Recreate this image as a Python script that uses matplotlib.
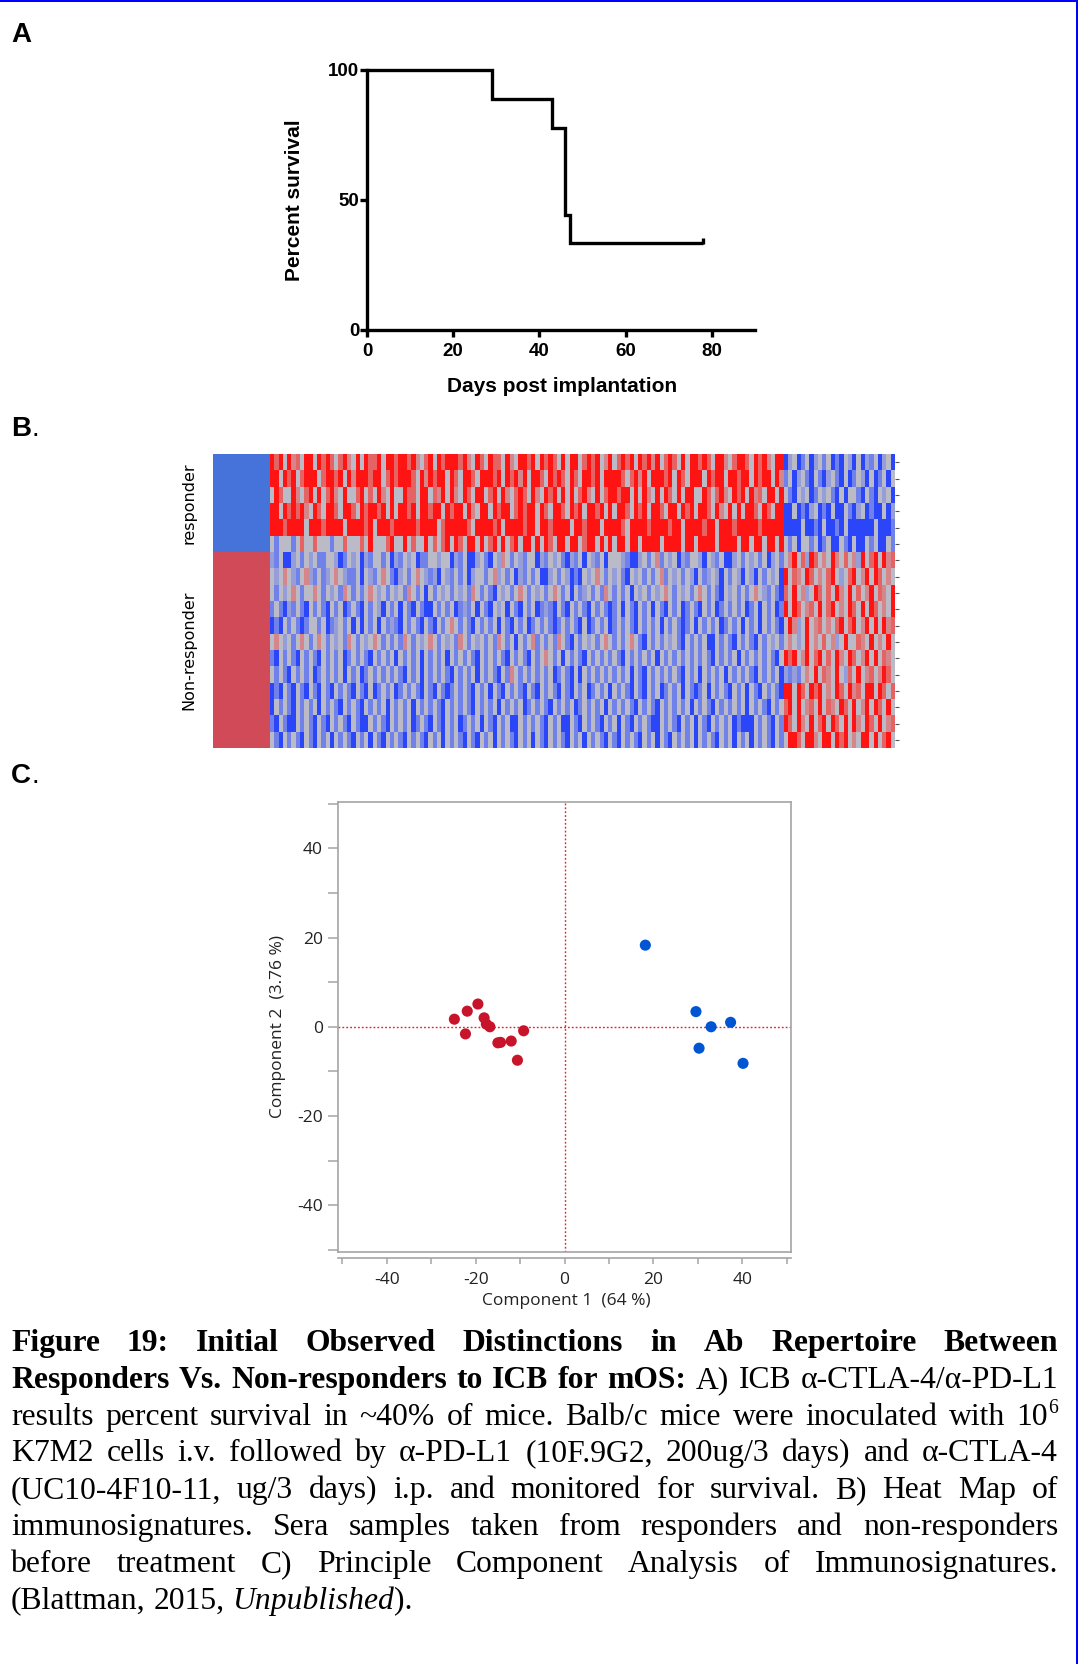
import numpy as np
import matplotlib
matplotlib.use("Agg")
import matplotlib.pyplot as plt
from matplotlib.colors import LinearSegmentedColormap, ListedColormap
from matplotlib.patches import Rectangle
from matplotlib.font_manager import FontProperties

# ---------------- data ----------------
# Panel A: Kaplan-Meier survival
surv_days = [0, 29, 43, 46, 47, 78]
surv_pct = [100, 88.9, 77.8, 44.4, 33.3, 33.3]
surv_xticks = [0, 20, 40, 60, 80]
surv_yticks = [0, 50, 100]

# Panel B: heat map (levels: B strong blue, b blue, l pale blue, g grey, p pale red, r red, R strong red)
groups = ["responder"] * 6 + ["Non-responder"] * 12
heat_left = [
    "RrRgRprgRR gRrRrgrRpg RgRrrRgRRr RRrRpgrRgR rRRRrRpgRr gRrrgRpgRR rRgRrRrgRg RRgrRrRgpR grRrRgRrRp RgrRrgRgRR rRrgRRpgrR RrgRrRpgRR",
    "RRgRrRgrRR RgrRRrRgRp RRRrRRgrRr RRRrgRpRrR RgRrgRRrgR RRrRgRrRpR gRRrgRrRrg RrgRRrRgRR RRrgrRpRgR RRrRgRrgRR RgRrRRgRRr RRgRrRRgRp",
    "gRrggRpgrR gRgrRpgRgg rRgrgRpgRg gRrrgRRgrp RgRpgRrgRR grRgRpgrRr gRpgRrRgRg RgrRpgRgrR RrRRgRgRpg RgRrgRgRRg gRrgrRpgRr RgRprgRRgR",
    "RRgRrRrRpg RrgRRrgRRr gRrRRrRgRg RRrRgRRrRR gRrRRgRpgR RgRrRRgrRr RRgRrgRRrg RrRgRRrRgR gRRrgRrRgR RrgRRgRrRg RRrgRpgRgR gRRrgRrgRR",
    "RRRrRRRRgR RRrRRRRgRR RRrRgRRRrR RRRRrRRRRg rRRRRRrgRR RRrRgRRRRr RRgRRrRRRR gRRrRRRgRR RRrgRRRRrR RRRrRRgRRR RrRRgRRRrR RRRRrRRRRR",
    "gbgggbgrgg rgggbggrgg grgRgggrRg gRgrggRgrg rRgRrgRRgR grRgRgrRgR RgRgRrgRRg RRgrRRgRgR gRRgRRgRRR RgRRRRgRRg RRRRgRRRRg RRgRRgRRgR",
    "lbgBBlgbgl gbbgglBbgl gBlbggbgBl bglgBbbggl ggBlbgBBlg bBglpgbglb ggBlbglgbB lbgBglbgBg gglbBBlgbg pbglgBlbgg lBglbgBBlg bglgbgBlgb",
    "glgpglbgpl bgblgpglbb gBglbgpgbB lgbgpglblB glbgbgBlgg bgplgbgBlb gbgBBlgbgl BbBglgpgbg lgbBglgbgb gpbglgbglB gblglBgbgl BglBgbglgB",
    "gbglgpgbgg pgbglgbpgb gbgpglgbgl gbpgbgBgbg lgbglgbpgb gbBglgbgpg bglgbgpgbg Bgblgbgbpg bgbgBglgbg lgpgbglgbg pgbgbBglgb gbgpglbgbB",
    "bgbBlbgbBg bgbBgbgBbg bBgbglBgbg BgbBgbBBgb gbgBblbgBg bBglgBgbBg bgBblbBgbB gbgbBgbgbB bgBgbBgbgB gbBgbgBbgb BgbgBbgbgb gBbgBgbgBb",
    "BbBgbgbBbg gbgBblgbgB gBgbgBgblb BgbgbBgbBg bgpgbgbBgb gbgBgbBgbg BbgbgbBbgb gbBgBbgbgB bgbgbBgbgb gBgbgbBbgB gbgbgBbgbg BgbgBgbgbB",
    "gpglgbgpgb gpgbglgbpg bglgpgbgbg bpgbglgpgb glgbpgbglg bgbpgbgBgb gpbgbgbpgb Bgbglgbgpg bgbgpgbBgb gbglgbBgbg bgBBgbgbBg bgbBgbglgb",
    "bBgbgbBgbg bBgbgbgBbg bgbBgbgbgB gbgbgBgbgb gBgbgbgbBg bgbgbBgbgb BgbgpgbgBg bgbBgbgbgb gbBgbgbgbg Bgbgbgbgbg bgbBgbgbgB gbgbgbgbBg",
    "gbgbBgbgbg BbgbgbgBgb gBbgbgbgbg bBgbgBgbgb gbBgbgbgBg bgbBgbpgbg bgbgbgBbgb BgBgbgbgbg bgbgBgbBgb gbgbgbBgbg BgbgbgBgbg bgbBgbgbgB",
    "BbBgbBgbBg bBgbBgbgbB gbBgBbgbgB bgbgbBgbBg bBbgbgbBgb gBgbBgbgbB gbBgbgbBgb BgbgBbgbgB gbgbBgbBgb gBbgbgBgbB bgBgbgbBgb gBgbBgbgbB",
    "BgbgbBgbgb gBgbgbBgbg bBgbgbgBgb gbgBgbgbgb BgbgbgbBgb gbgBgbgbgB bgbgbBgbgb gBbgbgbgBg bgbgbBgbgb BgbgbgbgBg bgbBgbgbgb gBgbgbBgbg",
    "bBgbBBgbgb BgbBgbgbBg bBBgbgbBgb gbgBbgbBgb BgbgBbgbgB gbBgbgBBgb gbgbBgbgBB gbBgbgbBgb gBgbBgbgbB BgbgbBgbgB gbBgbgbgBb BBBgbgbBgb",
    "gbBgbgbBgb BgbgBgbgbB gbgBgbBgbg bBgbgbBgbg BgbgbBgbBg bgBgbgbBgb gBgbBgbgbB gbgBgbgbBg bBgbgbBgbg BgbBgbgbgB gbgbBgbgBg bgBgbgbBgb",
]
heat_right = [
    "BlgBbgBlgb gBbBglBgBl bgBlgB",
    "bgBlgbBgbB lgbBgBbglB gBbgBg",
    "gbBglgBbgl gbBgBggbBg bBglgB",
    "BBgBbBlgBb BgBBgbBlgB bBBgBl",
    "BBBBgBBbBg BBbBgBBBBB BgBBBb",
    "gbgBggbgBb gBBgbBgBBg bgBBgb",
    "gpRgrlRrgp gRpgrgplRg rRgRpr",
    "RgrpgRrgpg rRglgrRgpR gRrgpg",
    "rgRgplgRrg rgRpgRgrgp RgrpgR",
    "RgRrgprgRg rRgpgRrgRg RrgpgR",
    "gRplgRgprg pgrRgrRgpR gRgRpr",
    "gpglgRgpgr gplgRggrpg RgpgRg",
    "RrRgpRgrRg rgRpgRrgpR gRgrpg",
    "lblbgpgRgr pgRglrgRgp rgpRrg",
    "RRgRrgRrRg pgRrgRprgR RgRrgr",
    "rRgRgprgRg rpgRrgRgpR gRrgRg",
    "RrgRpgRgrR gRrgRgRpgR rgRgpr",
    "gRRrgRRpgR RgRrRgpgRR gRgrRg",
]
level_values = {"B": -2.0, "b": -1.0, "l": -0.5, "g": 0.0, "p": 0.6, "r": 1.0, "R": 2.0}

# Panel C: PCA scores
nonresp_pc1 = [-24.8, -21.9, -19.5, -22.3, -18.1, -17.6, -16.8, -15.0, -14.4, -12.0, -9.2, -10.6]
nonresp_pc2 = [1.7, 3.5, 5.1, -1.6, 2.0, 0.6, 0.0, -3.6, -3.5, -3.2, -0.9, -7.5]
resp_pc1 = [18.2, 29.6, 33.0, 37.4, 30.3, 40.2]
resp_pc2 = [18.3, 3.4, 0.0, 1.0, -4.8, -8.2]
pca_major = [-40, -20, 0, 20, 40]
pca_minor = [-50, -30, -10, 10, 30, 50]

# Caption
caption_lines = [
    ([("Figure 19: Initial Observed Distinctions in Ab Repertoire Between", "b")], True),
    ([("Responders Vs. Non-responders to ICB for mOS:", "b"), (" A) ICB α-CTLA-4/α-PD-L1", "n")], True),
    ([("results percent survival in ~40% of mice. Balb/c mice were inoculated with 10", "n"), ("6", "s")], True),
    ([("K7M2 cells i.v. followed by α-PD-L1 (10F.9G2, 200ug/3 days) and α-CTLA-4", "n")], True),
    ([("(UC10-4F10-11, ug/3 days) i.p. and monitored for survival. B) Heat Map of", "n")], True),
    ([("immunosignatures. Sera samples taken from responders and non-responders", "n")], True),
    ([("before treatment C) Principle Component Analysis of Immunosignatures.", "n")], True),
    ([("(Blattman, 2015, ", "n"), ("Unpublished", "i"), (").", "n")], False),
]

# ---------------- figure ----------------
W, H, DPI = 1078, 1664, 100
fig = plt.figure(figsize=(W / DPI, H / DPI), dpi=DPI)
fig.patch.set_facecolor("white")


def fx(px):
    return px / W


def fy(py):
    return 1 - py / H


def box(l, t, r, b):
    return [fx(l), fy(b), (r - l) / W, (b - t) / H]


SANS = "Liberation Sans"

# border (top and right, blue)
fig.add_artist(Rectangle((0, fy(2.2)), 1, 2.2 / H, transform=fig.transFigure,
                         facecolor="#0000ff", edgecolor="none"))
fig.add_artist(Rectangle((fx(1075.5), 0), 2.5 / W, 1, transform=fig.transFigure,
                         facecolor="#0000ff", edgecolor="none"))

# panel letters
fig.text(fx(11), fy(42), "A", fontsize=20, fontweight="bold", family=SANS, va="baseline")
fig.text(fx(11), fy(436), "B", fontsize=20, fontweight="bold", family=SANS, va="baseline")
fig.text(fx(32), fy(436), ".", fontsize=20, family=SANS, va="baseline")
fig.text(fx(11), fy(783), "C", fontsize=20, fontweight="bold", family=SANS, va="baseline")
fig.text(fx(32), fy(783), ".", fontsize=20, family=SANS, va="baseline")

# ---------------- Panel A ----------------
axA = fig.add_axes(box(367, 70, 755, 330))
axA.step(surv_days, surv_pct, where="post", color="black", lw=2.4, clip_on=False,
         solid_joinstyle="miter", solid_capstyle="butt")
axA.plot([surv_days[-1]], [surv_pct[-1] + 1.0], marker="|", ms=5, mew=2.4, color="black",
         clip_on=False)
axA.set_xlim(0, 90)
axA.set_ylim(0, 100)
for s in ["top", "right"]:
    axA.spines[s].set_visible(False)
for s in ["left", "bottom"]:
    axA.spines[s].set_linewidth(2.4)
axA.set_xticks(surv_xticks, labels=[str(v) for v in surv_xticks], fontsize=13.5,
               fontweight="bold", family=SANS)
axA.set_yticks(surv_yticks, labels=[str(v) for v in surv_yticks], fontsize=13.5,
               fontweight="bold", family=SANS)
axA.tick_params(axis="x", direction="out", length=5, width=2.4, pad=4)
axA.tick_params(axis="y", direction="out", length=5, width=2.4, pad=0.5)
fig.text(fx(295), fy(200), "Percent survival", rotation=90, ha="center", va="center",
         fontsize=15, fontweight="bold", family=SANS)
fig.text(fx(562), fy(386), "Days post implantation", ha="center", va="center",
         fontsize=15, fontweight="bold", family=SANS)

# ---------------- Panel B ----------------
rows = [(L + R).replace(" ", "") for L, R in zip(heat_left, heat_right)]
assert len(set(len(r) for r in rows)) == 1
M = np.array([[level_values[c] for c in r] for r in rows])

heat_cmap = LinearSegmentedColormap.from_list(
    "bgr", [(0.0, "#2a46f8"), (0.25, "#7082ea"), (0.5, "#bbbbc8"),
            (0.75, "#e66464"), (1.0, "#ff1414")])
group_names = ["responder", "Non-responder"]
group_idx = np.array([[group_names.index(g)] for g in groups])

axG = fig.add_axes(box(213, 454, 270, 748))
axG.imshow(group_idx, cmap=ListedColormap(["#4673d9", "#d14a57"]), vmin=0, vmax=1,
           aspect="auto", interpolation="nearest")
axG.axis("off")

axH = fig.add_axes(box(270, 454, 895, 748))
axH.imshow(M, cmap=heat_cmap, vmin=-2, vmax=2, aspect="auto", interpolation="nearest")
for sp in axH.spines.values():
    sp.set_visible(False)
axH.set_xticks([])
axH.yaxis.tick_right()
axH.set_yticks(np.arange(M.shape[0]))
axH.set_yticklabels([])
axH.tick_params(axis="y", length=3, width=0.8, color="#555555")

n_resp = groups.count("responder")
row_h = (748 - 454) / len(groups)
fig.text(fx(189), fy(454 + row_h * n_resp / 2), "responder", rotation=90, ha="center",
         va="center", fontsize=11.5, family="DejaVu Sans")
fig.text(fx(189), fy(454 + row_h * (n_resp + len(groups)) / 2), "Non-responder", rotation=90,
         ha="center", va="center", fontsize=11.5, family="DejaVu Sans")

# ---------------- Panel C ----------------
PCA_FONT = "Open Sans"
GREY = "#a4a4a4"
REFRED = "#e8202a"
axC = fig.add_axes(box(338, 802, 791, 1252))
axC.set_xlim(-51.0, 51.0)
axC.set_ylim(-50.5, 50.4)
axC.axvline(0, color=REFRED, lw=1.0, ls=(0, (1.3, 1.5)), zorder=1)
axC.axhline(0, color=REFRED, lw=1.0, ls=(0, (1.3, 1.5)), zorder=1)
axC.scatter(nonresp_pc1, nonresp_pc2, s=64, color="#c8142a", edgecolors="none", zorder=3)
axC.scatter(resp_pc1, resp_pc2, s=64, color="#0055d2", edgecolors="none", zorder=3)
for sp in axC.spines.values():
    sp.set_color(GREY)
    sp.set_linewidth(1.2)
axC.spines["bottom"].set_position(("outward", 4))
axC.plot([0, 1], [0, 0], transform=axC.transAxes, color=GREY, lw=1.2, clip_on=False)
axC.set_xticks(pca_major, labels=[str(v) for v in pca_major], fontsize=12.5,
               family=PCA_FONT, color="#222222")
axC.set_xticks(pca_minor, minor=True)
axC.set_yticks(pca_major, labels=[str(v) for v in pca_major], fontsize=12.5,
               family=PCA_FONT, color="#222222")
axC.set_yticks(pca_minor, minor=True)
axC.tick_params(axis="x", which="both", length=4, width=1.1, color=GREY, pad=6.5)
axC.tick_params(axis="y", which="both", length=7, width=1.1, color=GREY, pad=4)
axC.xaxis.get_major_ticks()[2].tick1line.set_color(REFRED)
axC.yaxis.get_major_ticks()[2].tick1line.set_color(REFRED)
fig.text(fx(566), fy(1301), "Component 1  (64 %)", ha="center", va="center",
         fontsize=12.5, family=PCA_FONT, color="#222222")
fig.text(fx(278), fy(1027), "Component 2  (3.76 %)", rotation=90, ha="center", va="center",
         fontsize=12.5, family=PCA_FONT, color="#222222")

# ---------------- Caption ----------------
CAP = 22.8
fps = {
    "n": FontProperties(family="Liberation Serif", size=CAP),
    "b": FontProperties(family="Liberation Serif", size=CAP, weight="bold"),
    "i": FontProperties(family="Liberation Serif", size=CAP, style="italic"),
    "s": FontProperties(family="Liberation Serif", size=CAP * 0.62),
}
renderer = fig.canvas.get_renderer()


def tw(text, style):
    w, h, d = renderer.get_text_width_height_descent(text, fps[style], ismath=False)
    return w


def words_from_runs(runs):
    words = [[]]
    for text, style in runs:
        parts = text.split(" ")
        for k, p in enumerate(parts):
            if k > 0:
                words.append([])
            if p:
                words[-1].append((p, style))
    return [w for w in words if w]


space_w = tw("a a", "n") - tw("aa", "n")
L_EDGE, R_EDGE = 11, 1058
BASE0, LINE_STEP = 1351, 36.8
sup_raise = 0.36 * CAP * DPI / 72
for i, (runs, justify) in enumerate(caption_lines):
    words = words_from_runs(runs)
    widths = [sum(tw(t, s) for t, s in w) for w in words]
    if justify and len(words) > 1:
        gap = (R_EDGE - L_EDGE - sum(widths)) / (len(words) - 1)
    else:
        gap = space_w
    x = L_EDGE
    yb = BASE0 + i * LINE_STEP
    for w, wd in zip(words, widths):
        for t, s in w:
            yy = yb - (sup_raise if s == "s" else 0)
            fig.text(fx(x), fy(yy), t, fontproperties=fps[s], ha="left", va="baseline",
                     color="black")
            x += tw(t, s)
        x += gap

fig.savefig("out.png", dpi=DPI, facecolor="white")
